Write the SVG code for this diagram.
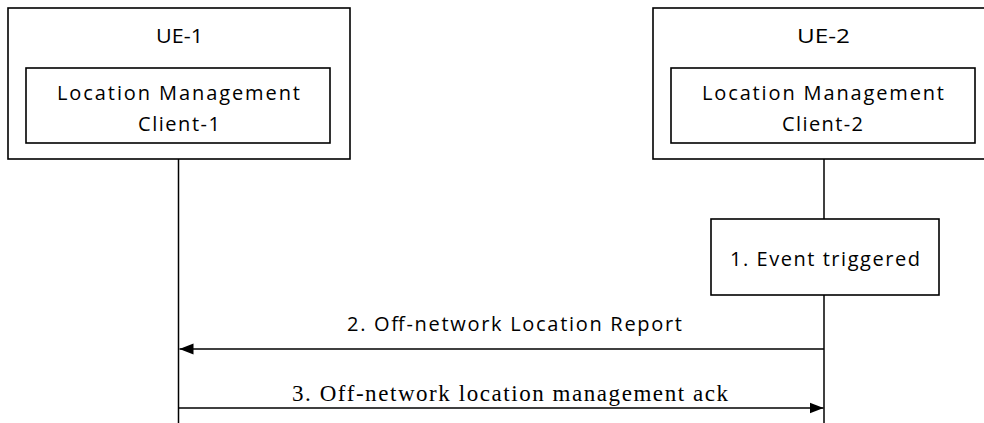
<svg xmlns="http://www.w3.org/2000/svg" width="984" height="423" viewBox="0 0 984 423">
<style>
.box{fill:#fff;stroke:#000;stroke-width:1.6}
.line{stroke:#000;stroke-width:1.5;fill:none}
.t{font-family:"Open Sans","Liberation Sans",sans-serif;font-size:20px;fill:#000;text-anchor:start}
.s{font-family:"Liberation Serif","Times New Roman",serif;font-size:23px;fill:#000}
</style>
<defs>
<marker id="ah" markerWidth="15" markerHeight="12" refX="14" refY="6" orient="auto" markerUnits="userSpaceOnUse">
<path d="M0,0.5 L14,6 L0,11.5 Z" fill="#000"/>
</marker>
</defs>
<g id="ue1">
<rect class="box" x="8" y="8" width="342" height="151"/>
<text class="t" x="156" y="43" textLength="47" lengthAdjust="spacingAndGlyphs">UE-1</text>
<g id="lmc1">
<rect class="box" x="26" y="68" width="304" height="75"/>
<text class="t" x="57" y="99.5" textLength="243" lengthAdjust="spacing">Location Management</text>
<text class="t" x="138" y="130.5" textLength="82" lengthAdjust="spacing">Client-1</text>
</g>
</g>
<g id="ue2">
<rect class="box" x="653" y="8" width="345" height="151"/>
<text class="t" x="797" y="43" textLength="53" lengthAdjust="spacingAndGlyphs">UE-2</text>
<g id="lmc2">
<rect class="box" x="671" y="68" width="304" height="75"/>
<text class="t" x="702" y="99.5" textLength="242" lengthAdjust="spacing">Location Management</text>
<text class="t" x="782" y="130.5" textLength="81" lengthAdjust="spacing">Client-2</text>
</g>
</g>
<g id="event">
<rect class="box" x="711" y="219" width="228" height="76"/>
<text class="t" x="730" y="266" textLength="190" lengthAdjust="spacing">1. Event triggered</text>
</g>
<g id="connectors">
<line class="line" x1="178.5" y1="159" x2="178.5" y2="423"/>
<line class="line" x1="824" y1="159" x2="824" y2="219"/>
<line class="line" x1="824" y1="295" x2="824" y2="423"/>
<line class="line" x1="824" y1="349" x2="179.5" y2="349" marker-end="url(#ah)"/>
<line class="line" x1="179" y1="408" x2="823.5" y2="408" marker-end="url(#ah)"/>
<text class="t" x="347" y="331" textLength="335" lengthAdjust="spacing">2. Off-network Location Report</text>
<text class="s" x="292" y="401" textLength="436" lengthAdjust="spacing">3. Off-network location management ack</text>
</g>
</svg>
